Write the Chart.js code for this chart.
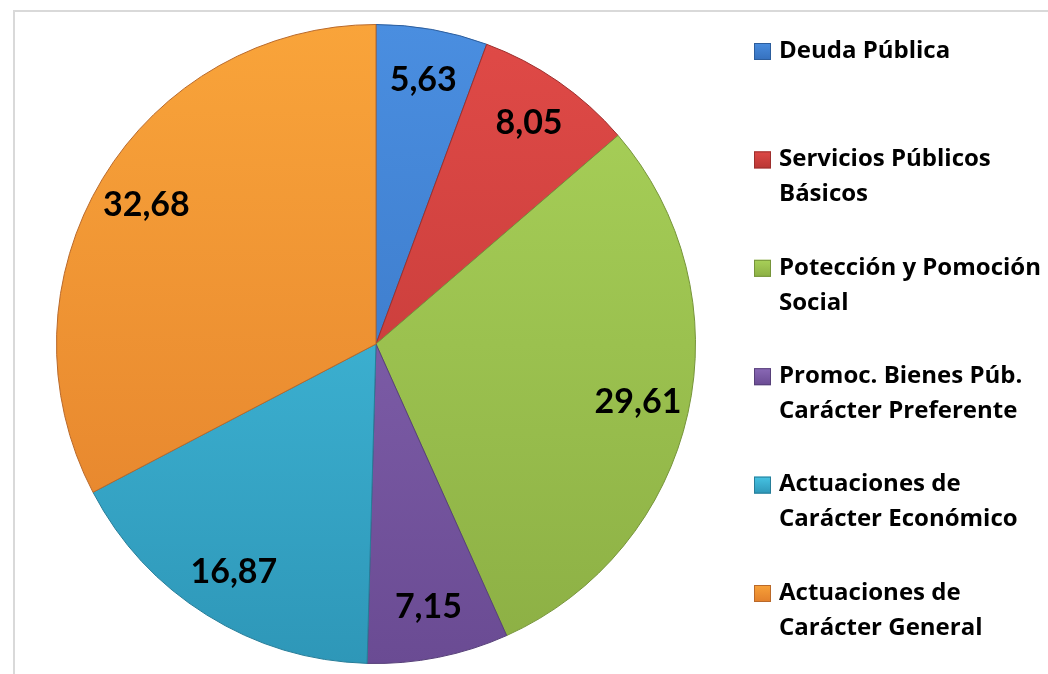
<!DOCTYPE html>
<html>
<head>
<meta charset="utf-8">
<script src="https://cdn.jsdelivr.net/npm/chart.js@4"></script>
<style>
	body { margin: 0; background: #fff; }
	canvas { display: block; }
</style>
</head>
<body>
<canvas id="grafico" width="1048" height="674"></canvas>
<script>
var categorias = [
	['Deuda Pública'],
	['Servicios Públicos', 'Básicos'],
	['Potección y Pomoción', 'Social'],
	['Promoc. Bienes Púb.', 'Carácter Preferente'],
	['Actuaciones de', 'Carácter Económico'],
	['Actuaciones de', 'Carácter General']
];
var valores = [5.63, 8.05, 29.61, 7.15, 16.87, 32.68];
// colores: claro arriba, oscuro abajo
var coloresClaros = ['#4a8ee0', '#e04a47', '#aad35a', '#8c6bb8', '#48c6e6', '#f9a43a'];
var coloresOscuros = ['#3570bd', '#b93634', '#8caf44', '#6a4b93', '#2e97b8', '#e27f2b'];
var coloresBorde = ['#2c5d9c', '#9c2f2d', '#76943a', '#574079', '#277d98', '#b9692a'];

function gradiente(ctx, area, i) {
	var g = ctx.createLinearGradient(0, area.top, 0, area.bottom);
	g.addColorStop(0, coloresClaros[i]);
	g.addColorStop(1, coloresOscuros[i]);
	return g;
}

function formatear(v) {
	return v.toFixed(2).replace('.', ',');
}

var marco = {
	id: 'marco',
	beforeDraw: (chart) => {
		var ctx = chart.ctx;
		ctx.save();
		ctx.strokeStyle = '#d9d9d9';
		ctx.lineWidth = 2;
		ctx.beginPath();
		ctx.moveTo(14, 674);
		ctx.lineTo(14, 11);
		ctx.lineTo(1048, 11);
		ctx.stroke();
		ctx.restore();
	}
};

var etiquetas = {
	id: 'etiquetas',
	afterDatasetsDraw: (chart) => {
		var ctx = chart.ctx;
		var meta = chart.getDatasetMeta(0);
		ctx.save();
		ctx.font = 'bold 34px Lato';
		ctx.fillStyle = '#000';
		ctx.textAlign = 'center';
		ctx.textBaseline = 'middle';
		meta.data.forEach((arc, i) => {
			var p = arc.getProps(['x', 'y', 'startAngle', 'endAngle', 'outerRadius'], true);
			var a = (p.startAngle + p.endAngle) / 2;
			var r = p.outerRadius * 0.84;
			ctx.fillText(formatear(valores[i]), p.x + Math.cos(a) * r, p.y + Math.sin(a) * r);
		});
		ctx.restore();
	}
};

var leyenda = {
	id: 'leyenda',
	afterDraw: (chart) => {
		var ctx = chart.ctx;
		ctx.save();
		ctx.font = 'bold 24px "Open Sans"';
		ctx.fillStyle = '#000';
		ctx.textBaseline = 'middle';
		var y = 51;
		categorias.forEach((lineas, i) => {
			var g = ctx.createLinearGradient(0, y - 9, 0, y + 9);
			g.addColorStop(0, coloresClaros[i]);
			g.addColorStop(1, coloresOscuros[i]);
			ctx.fillStyle = g;
			ctx.fillRect(754, y - 8, 17, 17);
			ctx.strokeStyle = coloresBorde[i];
			ctx.lineWidth = 1;
			ctx.strokeRect(754.5, y - 7.5, 16, 16);
			ctx.fillStyle = '#000';
			lineas.forEach((t, k) => {
				ctx.fillText(t, 779, y + k * 35);
			});
			y += 108.4;
		});
		ctx.restore();
	}
};

var grafico = new Chart(document.getElementById('grafico'), {
	type: 'pie',
	data: {
		labels: categorias,
		datasets: [{
			data: valores,
			backgroundColor: (c) => {
				var area = c.chart.chartArea;
				if (!area) return coloresOscuros[c.dataIndex];
				return gradiente(c.chart.ctx, area, c.dataIndex);
			},
			borderColor: coloresBorde,
			borderWidth: 1
		}]
	},
	options: {
		responsive: false,
		animation: false,
		layout: {
			padding: { left: 56, right: 352, top: 24, bottom: 10 }
		},
		plugins: {
			legend: { display: false },
			tooltip: { enabled: false }
		}
	},
	plugins: [marco, etiquetas, leyenda]
});
</script>
</body>
</html>
